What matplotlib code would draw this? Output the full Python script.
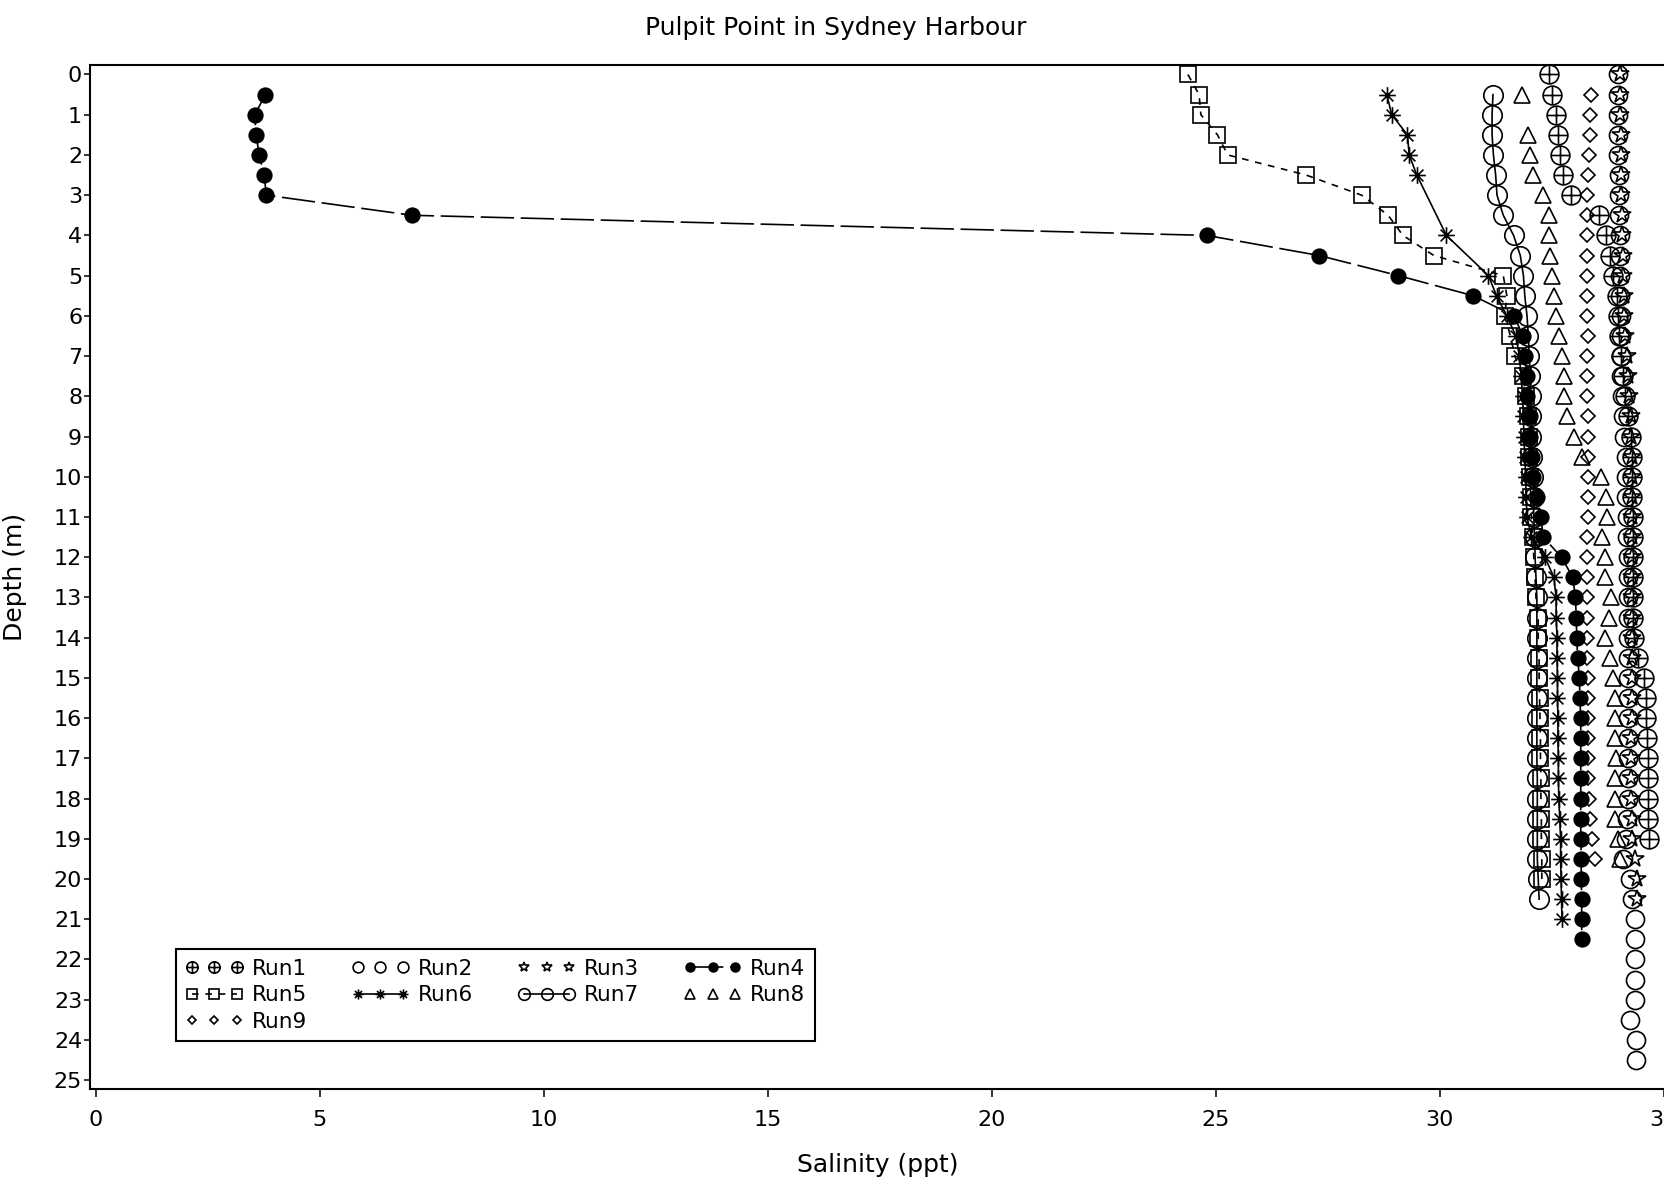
import matplotlib
matplotlib.use("Agg")
import matplotlib.pyplot as plt
from matplotlib.path import Path

plt.rcParams['font.family'] = ['DejaVu Sans']

# depth (m) and salinity (ppt) per run
depth1 = [0, 0.5, 1, 1.5, 2, 2.5, 3, 3.5, 4, 4.5, 5, 5.5, 6, 6.5, 7, 7.5, 8, 8.5, 9, 9.5,
          10, 10.5, 11, 11.5, 12, 12.5, 13, 13.5, 14, 14.5, 15, 15.5, 16, 16.5, 17, 17.5, 18, 18.5, 19]
sal1 = [32.45, 32.5, 32.6, 32.65, 32.69, 32.75, 32.93, 33.56, 33.71, 33.8, 33.88, 33.95, 33.97, 34.0,
        34.05, 34.1, 34.13, 34.21, 34.28, 34.29, 34.3, 34.3, 34.31, 34.31, 34.32, 34.32, 34.32, 34.32,
        34.33, 34.42, 34.56, 34.6, 34.6, 34.62, 34.65, 34.65, 34.65, 34.65, 34.67]

depth2 = [0, 0.5, 1, 1.5, 2, 2.5, 3, 3.5, 4, 4.5, 5, 5.5, 6, 6.5, 7, 7.5, 8, 8.5, 9, 9.5,
          10, 10.5, 11, 11.5, 12, 12.5, 13, 13.5, 14, 14.5, 15, 15.5, 16, 16.5, 17, 17.5, 18, 18.5, 19, 19.5,
          20, 20.5, 21, 21.5, 22, 22.5, 23, 23.5, 24, 24.5]
sal2 = [33.98, 33.98, 33.98, 33.99, 33.99, 34.0, 34.0, 34.0, 34.02, 34.02, 34.03, 34.03, 34.04, 34.04,
        34.05, 34.05, 34.08, 34.1, 34.12, 34.15, 34.15, 34.17, 34.18, 34.18, 34.2, 34.2, 34.2, 34.2,
        34.2, 34.2, 34.2, 34.2, 34.2, 34.2, 34.2, 34.2, 34.2, 34.18, 34.15, 34.1, 34.25, 34.3,
        34.36, 34.36, 34.36, 34.36, 34.35, 34.25, 34.38, 34.38]

depth3 = [0, 0.5, 1, 1.5, 2, 2.5, 3, 3.5, 4, 4.5, 5, 5.5, 6, 6.5, 7, 7.5, 8, 8.5, 9, 9.5,
          10, 10.5, 11, 11.5, 12, 12.5, 13, 13.5, 14, 14.5, 15, 15.5, 16, 16.5, 17, 17.5, 18, 18.5, 19, 19.5,
          20, 20.5]
sal3 = [34.02, 34.03, 34.03, 34.04, 34.04, 34.05, 34.05, 34.08, 34.08, 34.1, 34.1, 34.12, 34.12, 34.14,
        34.18, 34.2, 34.22, 34.26, 34.28, 34.3, 34.3, 34.3, 34.3, 34.3, 34.3, 34.3, 34.3, 34.3,
        34.3, 34.3, 34.3, 34.3, 34.3, 34.28, 34.28, 34.28, 34.28, 34.3, 34.3, 34.35, 34.4, 34.4]

depth4 = [0.5, 1, 1.5, 2, 2.5, 3, 3.5, 4, 4.5, 5, 5.5, 6, 6.5, 7, 7.5, 8, 8.5, 9, 9.5,
          10, 10.5, 11, 11.5, 12, 12.5, 13, 13.5, 14, 14.5, 15, 15.5, 16, 16.5, 17, 17.5, 18, 18.5, 19, 19.5,
          20, 20.5, 21, 21.5]
sal4 = [3.79, 3.55, 3.58, 3.65, 3.76, 3.81, 7.06, 24.8, 27.31, 29.08, 30.75, 31.66, 31.86, 31.9,
        31.95, 31.95, 32.02, 32.02, 32.06, 32.08, 32.18, 32.26, 32.31, 32.72, 32.97, 33.03, 33.05, 33.06,
        33.08, 33.12, 33.13, 33.15, 33.15, 33.15, 33.15, 33.15, 33.15, 33.15, 33.16, 33.16, 33.17, 33.17, 33.17]

depth5 = [0, 0.5, 1, 1.5, 2, 2.5, 3, 3.5, 4, 4.5, 5, 5.5, 6, 6.5, 7, 7.5, 8, 8.5, 9, 9.5,
          10, 10.5, 11, 11.5, 12, 12.5, 13, 13.5, 14, 14.5, 15, 15.5, 16, 16.5, 17, 17.5, 18, 18.5, 19, 19.5, 20]
sal5 = [24.38, 24.63, 24.67, 25.04, 25.27, 27.02, 28.26, 28.85, 29.18, 29.87, 31.42, 31.5, 31.45, 31.58,
        31.68, 31.85, 31.93, 31.97, 32.0, 32.0, 32.02, 32.03, 32.05, 32.08, 32.1, 32.13, 32.15, 32.2,
        32.2, 32.22, 32.22, 32.23, 32.24, 32.25, 32.25, 32.26, 32.26, 32.27, 32.27, 32.28, 32.28]

depth6 = [0.5, 1, 1.5, 2, 2.5, 4, 5, 5.5, 6, 6.5, 7, 7.5, 8, 8.5, 9, 9.5,
          10, 10.5, 11, 11.5, 12, 12.5, 13, 13.5, 14, 14.5, 15, 15.5, 16, 16.5, 17, 17.5, 18, 18.5, 19, 19.5,
          20, 20.5, 21]
sal6 = [28.82, 28.93, 29.28, 29.32, 29.49, 30.15, 31.09, 31.27, 31.5, 31.7, 31.78, 31.82, 31.85, 31.87,
        31.88, 31.9, 31.92, 31.93, 31.95, 32.05, 32.35, 32.55, 32.6, 32.6, 32.62, 32.62, 32.63, 32.63,
        32.64, 32.64, 32.65, 32.65, 32.66, 32.68, 32.7, 32.7, 32.71, 32.72, 32.73]

depth7 = [0.5, 1, 1.5, 2, 2.5, 3, 3.5, 4, 4.5, 5, 5.5, 6, 6.5, 7, 7.5, 8, 8.5, 9, 9.5,
          10, 10.5, 11, 11.5, 12, 12.5, 13, 13.5, 14, 14.5, 15, 15.5, 16, 16.5, 17, 17.5, 18, 18.5, 19, 19.5,
          20, 20.5]
sal7 = [31.19, 31.17, 31.17, 31.2, 31.25, 31.28, 31.42, 31.65, 31.8, 31.87, 31.9, 31.95, 31.98, 32.0,
        32.02, 32.03, 32.05, 32.05, 32.07, 32.08, 32.1, 32.1, 32.12, 32.13, 32.15, 32.17, 32.17, 32.17,
        32.17, 32.17, 32.17, 32.17, 32.17, 32.17, 32.18, 32.18, 32.18, 32.18, 32.18, 32.2, 32.22]

depth8 = [0.5, 1.5, 2, 2.5, 3, 3.5, 4, 4.5, 5, 5.5, 6, 6.5, 7, 7.5, 8, 8.5, 9, 9.5,
          10, 10.5, 11, 11.5, 12, 12.5, 13, 13.5, 14, 14.5, 15, 15.5, 16, 16.5, 17, 17.5, 18, 18.5, 19, 19.5]
sal8 = [31.83, 31.98, 32.02, 32.09, 32.31, 32.43, 32.44, 32.46, 32.5, 32.55, 32.6, 32.67, 32.72, 32.78,
        32.78, 32.84, 33.0, 33.17, 33.6, 33.71, 33.74, 33.62, 33.7, 33.69, 33.82, 33.77, 33.69, 33.8,
        33.88, 33.91, 33.91, 33.91, 33.93, 33.91, 33.91, 33.91, 33.98, 34.03]

depth9 = [0.5, 1, 1.5, 2, 2.5, 3, 3.5, 4, 4.5, 5, 5.5, 6, 6.5, 7, 7.5, 8, 8.5, 9, 9.5,
          10, 10.5, 11, 11.5, 12, 12.5, 13, 13.5, 14, 14.5, 15, 15.5, 16, 16.5, 17, 17.5, 18, 18.5, 19, 19.5]
sal9 = [33.37, 33.35, 33.35, 33.33, 33.31, 33.28, 33.28, 33.3, 33.3, 33.3, 33.3, 33.3, 33.32, 33.3,
        33.3, 33.3, 33.32, 33.32, 33.32, 33.32, 33.32, 33.32, 33.28, 33.28, 33.28, 33.28, 33.28, 33.28,
        33.28, 33.32, 33.32, 33.32, 33.32, 33.32, 33.32, 33.34, 33.36, 33.4, 33.47]

xticks = [0, 5, 10, 15, 20, 25, 30, 35]
yticks = list(range(0, 26))

# circle with a plus, and an 8-ray asterisk
oplus = Path.make_compound_path(
    Path.unit_circle(),
    Path([[-1, 0], [1, 0], [0, -1], [0, 1]], [1, 2, 1, 2]))
asterisk = Path([[-1, 0], [1, 0], [0, -1], [0, 1],
                 [-0.707, -0.707], [0.707, 0.707], [-0.707, 0.707], [0.707, -0.707]],
                [1, 2, 1, 2, 1, 2, 1, 2])

fig = plt.figure(figsize=(16.65, 11.82), dpi=100)
ax = fig.add_axes([0.05435, 0.07868, 0.94565, 0.86633])

k = dict(color='k', mec='k', mew=1.2)
ax.plot(sal1, depth1, ls='none', marker=oplus, ms=13.5, mfc='none', label='Run1', **k)
ax.plot(sal2, depth2, ls='none', marker='o', ms=13, mfc='none', label='Run2', **k)
ax.plot(sal3, depth3, ls='none', marker='*', ms=13, mfc='none', label='Run3', **k)
ax.plot(sal4, depth4, ls=(0, (20, 4)), lw=1.2, marker='o', ms=10.5, mfc='k', label='Run4', **k)
ax.plot(sal5, depth5, ls=(0, (4, 4)), lw=1.2, marker='s', ms=11.5, mfc='none', label='Run5', **k)
ax.plot(sal6, depth6, ls='-', lw=1.2, marker=asterisk, ms=12, mfc='none', label='Run6', **k)
ax.plot(sal7, depth7, ls='-', lw=1.2, marker='o', ms=14, mfc='none', label='Run7', **k)
ax.plot(sal8, depth8, ls='none', marker='^', ms=11.5, mfc='none', label='Run8', **k)
ax.plot(sal9, depth9, ls='none', marker='D', ms=7.5, mfc='none', label='Run9', **k)

ax.set_xlim(-0.116, 35.03)
ax.set_ylim(25.22, -0.236)
ax.set_xticks(xticks)
ax.set_yticks(yticks)
ax.tick_params(axis='x', direction='out', length=6, width=1.1, pad=9, labelsize=16)
ax.tick_params(axis='y', direction='out', length=4, width=1.1, pad=2, labelsize=16)
ax.spines['right'].set_visible(False)
for s in ['left', 'bottom', 'top']:
    ax.spines[s].set_linewidth(1.5)

ax.set_xlabel('Salinity (ppt)', fontsize=18, va='center')
ax.xaxis.set_label_coords(0.5, -0.0742)
ax.set_ylabel('Depth (m)', fontsize=18, va='center')
ax.yaxis.set_label_coords(-0.048, 0.5)

fig.text(836 / 1665, 1 - 28 / 1182, 'Pulpit Point in Sydney Harbour',
         fontsize=18, ha='center', va='center')

h, l = ax.get_legend_handles_labels()
order = [0, 4, 8, 1, 5, 2, 6, 3, 7]
leg = ax.legend([h[i] for i in order], [l[i] for i in order], ncol=4,
                loc='lower left', bbox_to_anchor=(0.054, 0.0464), borderaxespad=0,
                fontsize=15.5, numpoints=3, markerscale=0.6, handlelength=2.7,
                handletextpad=0.4, columnspacing=2.05, labelspacing=0.3,
                borderpad=0.45, fancybox=False, framealpha=1, edgecolor='k')
leg.get_frame().set_linewidth(1.5)

plt.savefig('out.png', dpi=100)
